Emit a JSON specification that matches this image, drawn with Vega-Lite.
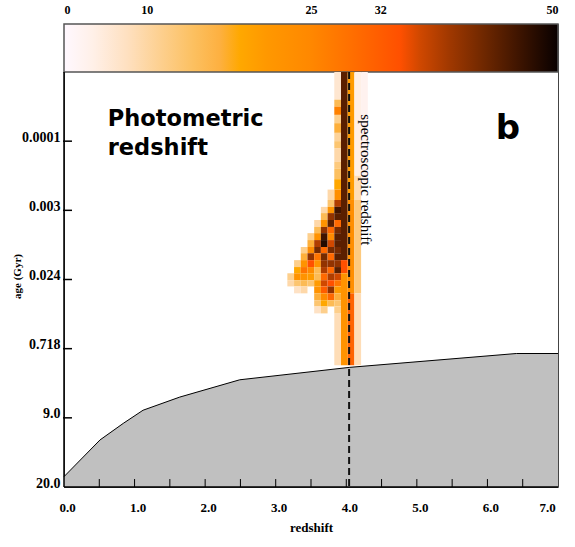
{
  "$schema": "https://vega.github.io/schema/vega-lite/v6.json",
  "width": 494,
  "height": 463,
  "autosize": {"type": "none"},
  "padding": {"left": 64, "top": 24, "right": 17, "bottom": 60},
  "background": "white",
  "config": {
    "view": {"stroke": "#444", "strokeWidth": 1},
    "axis": {
      "grid": false,
      "zindex": 1,
      "labelFont": "Liberation Serif",
      "labelFontWeight": "bold",
      "labelColor": "black",
      "titleFont": "Liberation Serif",
      "titleFontWeight": "bold",
      "titleColor": "black",
      "domainColor": "black",
      "tickColor": "black"
    }
  },
  "datasets": {
    "scale_bar": [{"lo": 0, "hi": 50}],
    "boundary": [
      {"z": 0.0, "a": 5.85},
      {"z": 0.51, "a": 5.32},
      {"z": 0.84, "a": 5.08},
      {"z": 1.12, "a": 4.89},
      {"z": 1.64, "a": 4.70},
      {"z": 2.49, "a": 4.45},
      {"z": 4.05, "a": 4.27},
      {"z": 6.41, "a": 4.07},
      {"z": 7.0, "a": 4.07}
    ],
    "spec_z": [{"z": 4.04}],
    "x_ticks": [
      {"z": 0.5}, {"z": 1}, {"z": 1.5}, {"z": 2}, {"z": 2.5}, {"z": 3}, {"z": 3.5},
      {"z": 4}, {"z": 4.5}, {"z": 5}, {"z": 5.5}, {"z": 6}, {"z": 6.5}
    ],
    "y_ticks": [{"a": 1}, {"a": 2}, {"a": 3}, {"a": 4}, {"a": 5}],
    "heat": [
      {"z0": 3.925, "z1": 4.02, "a0": 0, "a1": 2.72, "v": 44},
      {"z0": 3.925, "z1": 4.02, "a0": 2.72, "a1": 2.91, "v": 34},
      {"z0": 3.925, "z1": 4.02, "a0": 2.91, "a1": 4.24, "v": 22},
      {"z0": 4.02, "z1": 4.115, "a0": 0, "a1": 1.85, "v": 20},
      {"z0": 4.02, "z1": 4.115, "a0": 1.85, "a1": 3.2, "v": 23},
      {"z0": 4.02, "z1": 4.115, "a0": 3.2, "a1": 4.24, "v": 31},
      {"z0": 4.115, "z1": 4.21, "a0": 0, "a1": 1.5, "v": 3},
      {"z0": 4.115, "z1": 4.21, "a0": 1.5, "a1": 1.85, "v": 7},
      {"z0": 4.115, "z1": 4.21, "a0": 1.85, "a1": 3.2, "v": 11},
      {"z0": 4.115, "z1": 4.21, "a0": 3.2, "a1": 4.24, "v": 7},
      {"z0": 4.21, "z1": 4.305, "a0": 0, "a1": 1.6, "v": 2},
      {"z0": 3.83, "z1": 3.925, "a0": 0, "a1": 0.4, "v": 5},
      {"z0": 3.83, "z1": 3.925, "a0": 0.4, "a1": 0.5, "v": 14},
      {"z0": 3.83, "z1": 3.925, "a0": 0.5, "a1": 0.62, "v": 26},
      {"z0": 3.83, "z1": 3.925, "a0": 0.62, "a1": 0.74, "v": 10},
      {"z0": 3.83, "z1": 3.925, "a0": 0.74, "a1": 0.88, "v": 16},
      {"z0": 3.83, "z1": 3.925, "a0": 0.88, "a1": 1.0, "v": 9},
      {"z0": 3.83, "z1": 3.925, "a0": 1.0, "a1": 1.1, "v": 12},
      {"z0": 3.83, "z1": 3.925, "a0": 1.1, "a1": 1.3, "v": 8},
      {"z0": 3.83, "z1": 3.925, "a0": 1.3, "a1": 1.4, "v": 11},
      {"z0": 3.83, "z1": 3.925, "a0": 1.4, "a1": 1.55, "v": 13},
      {"z0": 3.83, "z1": 3.925, "a0": 1.55, "a1": 1.7, "v": 18},
      {"z0": 3.83, "z1": 3.925, "a0": 1.7, "a1": 1.85, "v": 23},
      {"z0": 3.83, "z1": 3.925, "a0": 3.49, "a1": 4.24, "v": 7},
      {"z0": 3.735, "z1": 3.83, "a0": 1.7, "a1": 1.85, "v": 8},

      {"z0": 3.735, "z1": 3.83, "a0": 1.85, "a1": 1.95, "v": 12},
      {"z0": 3.83, "z1": 3.925, "a0": 1.85, "a1": 1.95, "v": 38},

      {"z0": 3.64, "z1": 3.735, "a0": 1.95, "a1": 2.04, "v": 8},
      {"z0": 3.735, "z1": 3.83, "a0": 1.95, "a1": 2.04, "v": 22},
      {"z0": 3.83, "z1": 3.925, "a0": 1.95, "a1": 2.04, "v": 46},

      {"z0": 3.64, "z1": 3.735, "a0": 2.04, "a1": 2.14, "v": 14},
      {"z0": 3.735, "z1": 3.83, "a0": 2.04, "a1": 2.14, "v": 40},
      {"z0": 3.83, "z1": 3.925, "a0": 2.04, "a1": 2.14, "v": 44},

      {"z0": 3.545, "z1": 3.64, "a0": 2.14, "a1": 2.24, "v": 8},
      {"z0": 3.64, "z1": 3.735, "a0": 2.14, "a1": 2.24, "v": 22},
      {"z0": 3.735, "z1": 3.83, "a0": 2.14, "a1": 2.24, "v": 44},
      {"z0": 3.83, "z1": 3.925, "a0": 2.14, "a1": 2.24, "v": 30},

      {"z0": 3.545, "z1": 3.64, "a0": 2.24, "a1": 2.33, "v": 14},
      {"z0": 3.64, "z1": 3.735, "a0": 2.24, "a1": 2.33, "v": 40},
      {"z0": 3.735, "z1": 3.83, "a0": 2.24, "a1": 2.33, "v": 30},
      {"z0": 3.83, "z1": 3.925, "a0": 2.24, "a1": 2.33, "v": 42},

      {"z0": 3.45, "z1": 3.545, "a0": 2.33, "a1": 2.43, "v": 10},
      {"z0": 3.545, "z1": 3.64, "a0": 2.33, "a1": 2.43, "v": 22},
      {"z0": 3.64, "z1": 3.735, "a0": 2.33, "a1": 2.43, "v": 46},
      {"z0": 3.735, "z1": 3.83, "a0": 2.33, "a1": 2.43, "v": 24},
      {"z0": 3.83, "z1": 3.925, "a0": 2.33, "a1": 2.43, "v": 44},

      {"z0": 3.45, "z1": 3.545, "a0": 2.43, "a1": 2.53, "v": 16},
      {"z0": 3.545, "z1": 3.64, "a0": 2.43, "a1": 2.53, "v": 38},
      {"z0": 3.64, "z1": 3.735, "a0": 2.43, "a1": 2.53, "v": 48},
      {"z0": 3.735, "z1": 3.83, "a0": 2.43, "a1": 2.53, "v": 36},
      {"z0": 3.83, "z1": 3.925, "a0": 2.43, "a1": 2.53, "v": 44},

      {"z0": 3.355, "z1": 3.45, "a0": 2.53, "a1": 2.62, "v": 10},
      {"z0": 3.45, "z1": 3.545, "a0": 2.53, "a1": 2.62, "v": 24},
      {"z0": 3.545, "z1": 3.64, "a0": 2.53, "a1": 2.62, "v": 42},
      {"z0": 3.64, "z1": 3.735, "a0": 2.53, "a1": 2.62, "v": 30},
      {"z0": 3.735, "z1": 3.83, "a0": 2.53, "a1": 2.62, "v": 42},
      {"z0": 3.83, "z1": 3.925, "a0": 2.53, "a1": 2.62, "v": 42},

      {"z0": 3.355, "z1": 3.45, "a0": 2.62, "a1": 2.72, "v": 16},
      {"z0": 3.45, "z1": 3.545, "a0": 2.62, "a1": 2.72, "v": 40},
      {"z0": 3.545, "z1": 3.64, "a0": 2.62, "a1": 2.72, "v": 28},
      {"z0": 3.64, "z1": 3.735, "a0": 2.62, "a1": 2.72, "v": 42},
      {"z0": 3.735, "z1": 3.83, "a0": 2.62, "a1": 2.72, "v": 30},
      {"z0": 3.83, "z1": 3.925, "a0": 2.62, "a1": 2.72, "v": 44},

      {"z0": 3.26, "z1": 3.355, "a0": 2.72, "a1": 2.82, "v": 10},
      {"z0": 3.355, "z1": 3.45, "a0": 2.72, "a1": 2.82, "v": 22},
      {"z0": 3.45, "z1": 3.545, "a0": 2.72, "a1": 2.82, "v": 34},
      {"z0": 3.545, "z1": 3.64, "a0": 2.72, "a1": 2.82, "v": 22},
      {"z0": 3.64, "z1": 3.735, "a0": 2.72, "a1": 2.82, "v": 40},
      {"z0": 3.735, "z1": 3.83, "a0": 2.72, "a1": 2.82, "v": 40},
      {"z0": 3.83, "z1": 3.925, "a0": 2.72, "a1": 2.82, "v": 40},

      {"z0": 3.26, "z1": 3.355, "a0": 2.82, "a1": 2.91, "v": 18},
      {"z0": 3.355, "z1": 3.45, "a0": 2.82, "a1": 2.91, "v": 28},
      {"z0": 3.45, "z1": 3.545, "a0": 2.82, "a1": 2.91, "v": 24},
      {"z0": 3.545, "z1": 3.64, "a0": 2.82, "a1": 2.91, "v": 14},
      {"z0": 3.64, "z1": 3.735, "a0": 2.82, "a1": 2.91, "v": 38},
      {"z0": 3.735, "z1": 3.83, "a0": 2.82, "a1": 2.91, "v": 30},
      {"z0": 3.83, "z1": 3.925, "a0": 2.82, "a1": 2.91, "v": 44},

      {"z0": 3.165, "z1": 3.26, "a0": 2.91, "a1": 3.01, "v": 10},
      {"z0": 3.26, "z1": 3.355, "a0": 2.91, "a1": 3.01, "v": 22},
      {"z0": 3.355, "z1": 3.45, "a0": 2.91, "a1": 3.01, "v": 22},
      {"z0": 3.45, "z1": 3.545, "a0": 2.91, "a1": 3.01, "v": 20},
      {"z0": 3.545, "z1": 3.64, "a0": 2.91, "a1": 3.01, "v": 14},
      {"z0": 3.64, "z1": 3.735, "a0": 2.91, "a1": 3.01, "v": 30},
      {"z0": 3.735, "z1": 3.83, "a0": 2.91, "a1": 3.01, "v": 38},
      {"z0": 3.83, "z1": 3.925, "a0": 2.91, "a1": 3.01, "v": 36},

      {"z0": 3.165, "z1": 3.26, "a0": 3.01, "a1": 3.1, "v": 8},
      {"z0": 3.26, "z1": 3.355, "a0": 3.01, "a1": 3.1, "v": 12},
      {"z0": 3.355, "z1": 3.45, "a0": 3.01, "a1": 3.1, "v": 14},
      {"z0": 3.45, "z1": 3.545, "a0": 3.01, "a1": 3.1, "v": 12},
      {"z0": 3.545, "z1": 3.64, "a0": 3.01, "a1": 3.1, "v": 20},
      {"z0": 3.64, "z1": 3.735, "a0": 3.01, "a1": 3.1, "v": 36},
      {"z0": 3.735, "z1": 3.83, "a0": 3.01, "a1": 3.1, "v": 34},
      {"z0": 3.83, "z1": 3.925, "a0": 3.01, "a1": 3.1, "v": 28},

      {"z0": 3.26, "z1": 3.355, "a0": 3.1, "a1": 3.2, "v": 6},
      {"z0": 3.355, "z1": 3.45, "a0": 3.1, "a1": 3.2, "v": 8},
      {"z0": 3.545, "z1": 3.64, "a0": 3.1, "a1": 3.2, "v": 22},
      {"z0": 3.64, "z1": 3.735, "a0": 3.1, "a1": 3.2, "v": 32},
      {"z0": 3.735, "z1": 3.83, "a0": 3.1, "a1": 3.2, "v": 40},
      {"z0": 3.83, "z1": 3.925, "a0": 3.1, "a1": 3.2, "v": 20},

      {"z0": 3.545, "z1": 3.64, "a0": 3.2, "a1": 3.3, "v": 16},
      {"z0": 3.64, "z1": 3.735, "a0": 3.2, "a1": 3.3, "v": 24},
      {"z0": 3.735, "z1": 3.83, "a0": 3.2, "a1": 3.3, "v": 30},
      {"z0": 3.83, "z1": 3.925, "a0": 3.2, "a1": 3.3, "v": 16},

      {"z0": 3.545, "z1": 3.64, "a0": 3.3, "a1": 3.39, "v": 12},
      {"z0": 3.64, "z1": 3.735, "a0": 3.3, "a1": 3.39, "v": 18},
      {"z0": 3.735, "z1": 3.83, "a0": 3.3, "a1": 3.39, "v": 14},
      {"z0": 3.83, "z1": 3.925, "a0": 3.3, "a1": 3.39, "v": 12},

      {"z0": 3.545, "z1": 3.64, "a0": 3.39, "a1": 3.49, "v": 6},
      {"z0": 3.64, "z1": 3.735, "a0": 3.39, "a1": 3.49, "v": 10},
      {"z0": 3.83, "z1": 3.925, "a0": 3.39, "a1": 3.49, "v": 10}
    ]
  },
  "layer": [
    {
      "data": {"name": "boundary"},
      "mark": {"type": "area", "color": "#c0c0c0", "opacity": 1, "line": {"color": "black", "strokeWidth": 1}},
      "encoding": {
        "x": {
          "field": "z",
          "type": "quantitative",
          "scale": {"domain": [0, 7], "nice": false, "zero": false},
          "axis": {
            "orient": "bottom",
            "values": [0, 1, 2, 3, 4, 5, 6, 7],
            "format": ".1f",
            "domain": false,
            "ticks": false,
            "labelFlush": false,
            "labelPadding": 14,
            "labelOffset": {"condition": {"test": "datum.value == 7", "value": -11}, "value": 3},
            "labelFontSize": 13,
            "title": "redshift",
            "titleFontSize": 13,
            "titlePadding": 7
          }
        },
        "y": {
          "field": "a",
          "type": "quantitative",
          "scale": {"domain": [-0.694, 6], "reverse": true, "nice": false, "zero": false},
          "axis": {
            "orient": "left",
            "values": [1, 2, 3, 4, 5, 6],
            "labelExpr": "['', '0.0001', '0.003', '0.024', '0.718', '9.0', '20.0'][datum.value]",
            "domain": false,
            "ticks": false,
            "labelPadding": 4,
            "labelFontSize": 14,
            "labelBaseline": "alphabetic",
            "title": "age (Gyr)",
            "titleFontSize": 11,
            "titleAngle": -90,
            "titleAlign": "center",
            "titleBaseline": "middle",
            "titleX": -47,
            "titleY": 252
          }
        },
        "y2": {"datum": 6}
      }
    },
    {
      "data": {"name": "scale_bar"},
      "mark": {
        "type": "rect",
        "stroke": "#555",
        "strokeWidth": 1.5,
        "fill": {
          "gradient": "linear",
          "x1": 0, "y1": 0, "x2": 1, "y2": 0,
          "stops": [
            {"offset": 0, "color": "#fff8ff"},
            {"offset": 0.058, "color": "#fff0e8"},
            {"offset": 0.128, "color": "#fee0c0"},
            {"offset": 0.194, "color": "#fdd090"},
            {"offset": 0.262, "color": "#fcc060"},
            {"offset": 0.316, "color": "#fdb040"},
            {"offset": 0.356, "color": "#ffa800"},
            {"offset": 0.41, "color": "#ff9800"},
            {"offset": 0.498, "color": "#ff8800"},
            {"offset": 0.578, "color": "#ff7000"},
            {"offset": 0.68, "color": "#ff5000"},
            {"offset": 0.72, "color": "#d04800"},
            {"offset": 0.78, "color": "#a03800"},
            {"offset": 0.848, "color": "#702800"},
            {"offset": 0.918, "color": "#401500"},
            {"offset": 1, "color": "#080000"}
          ]
        }
      },
      "encoding": {
        "x": {
          "field": "lo",
          "type": "quantitative",
          "scale": {"domain": [0, 50], "nice": false, "zero": false},
          "axis": {
            "orient": "top",
            "values": [0, 10, 25, 32, 50],
            "format": "d",
            "ticks": false,
            "domain": false,
            "labelFontSize": 12,
            "labelPadding": 8,
            "labelOffset": {"condition": {"test": "datum.value == 10", "value": -16}, "value": 0},
            "title": null
          }
        },
        "x2": {"field": "hi"},
        "y": {
          "datum": -0.694,
          "type": "quantitative",
          "scale": {"domain": [-0.694, 6], "reverse": true, "nice": false, "zero": false},
          "axis": null
        },
        "y2": {"datum": 0}
      }
    },
    {
      "data": {"name": "heat"},
      "mark": {"type": "rect"},
      "encoding": {
        "x": {"field": "z0", "type": "quantitative", "scale": {"domain": [0, 7], "nice": false, "zero": false}, "axis": null},
        "x2": {"field": "z1"},
        "y": {"field": "a0", "type": "quantitative", "scale": {"domain": [-0.694, 6], "reverse": true, "nice": false, "zero": false}, "axis": null},
        "y2": {"field": "a1"},
        "color": {
          "field": "v",
          "type": "quantitative",
          "scale": {
            "domain": [0, 2.9, 6.4, 9.7, 13.1, 15.8, 17.8, 20.5, 24.9, 28.9, 34, 36, 39, 42.4, 45.9, 50],
            "range": ["#fff8ff", "#fff0e8", "#fee0c0", "#fdd090", "#fcc060", "#fdb040", "#ffa800", "#ff9800", "#ff8800", "#ff7000", "#ff5000", "#d04800", "#a03800", "#702800", "#401500", "#080000"],
            "interpolate": "rgb"
          },
          "legend": null
        }
      }
    },
    {
      "data": {"name": "spec_z"},
      "mark": {"type": "rule", "color": "#111", "strokeWidth": 2, "strokeDash": [7, 4]},
      "encoding": {
        "x": {"field": "z", "type": "quantitative", "scale": {"domain": [0, 7], "nice": false, "zero": false}, "axis": null},
        "y": {"datum": 0, "type": "quantitative", "scale": {"domain": [-0.694, 6], "reverse": true, "nice": false, "zero": false}, "axis": null},
        "y2": {"datum": 6}
      }
    },
    {
      "data": {"values": [{}]},
      "mark": {"type": "rule", "color": "black", "strokeWidth": 1.5},
      "encoding": {
        "x": {"datum": 0, "type": "quantitative", "scale": {"domain": [0, 7], "nice": false, "zero": false}, "axis": null},
        "y": {"datum": 0, "type": "quantitative", "scale": {"domain": [-0.694, 6], "reverse": true, "nice": false, "zero": false}, "axis": null},
        "y2": {"datum": 6}
      }
    },
    {
      "data": {"values": [{}]},
      "mark": {"type": "rule", "color": "black", "strokeWidth": 1.5},
      "encoding": {
        "x": {"datum": 0, "type": "quantitative", "scale": {"domain": [0, 7], "nice": false, "zero": false}, "axis": null},
        "x2": {"datum": 7},
        "y": {"datum": 6, "type": "quantitative", "scale": {"domain": [-0.694, 6], "reverse": true, "nice": false, "zero": false}, "axis": null}
      }
    },
    {
      "data": {"name": "x_ticks"},
      "mark": {"type": "rule", "color": "black", "strokeWidth": 1},
      "encoding": {
        "x": {"field": "z", "type": "quantitative", "scale": {"domain": [0, 7], "nice": false, "zero": false}, "axis": null},
        "y": {"datum": 6, "type": "quantitative", "scale": {"domain": [-0.694, 6], "reverse": true, "nice": false, "zero": false}, "axis": null},
        "y2": {"datum": 5.885}
      }
    },
    {
      "data": {"name": "y_ticks"},
      "mark": {"type": "rule", "color": "black", "strokeWidth": 1.5},
      "encoding": {
        "x": {"datum": -0.014, "type": "quantitative", "scale": {"domain": [0, 7], "nice": false, "zero": false}, "axis": null},
        "x2": {"datum": 0.113},
        "y": {"field": "a", "type": "quantitative", "scale": {"domain": [-0.694, 6], "reverse": true, "nice": false, "zero": false}, "axis": null}
      }
    },
    {
      "data": {"values": [{"z": 4.28, "a": 1.56, "label": "spectroscopic redshift"}]},
      "mark": {"type": "text", "font": "Liberation Serif", "fontSize": 15, "angle": 90, "align": "center", "baseline": "middle", "color": "black"},
      "encoding": {
        "x": {"field": "z", "type": "quantitative", "scale": {"domain": [0, 7], "nice": false, "zero": false}, "axis": null},
        "y": {"field": "a", "type": "quantitative", "scale": {"domain": [-0.694, 6], "reverse": true, "nice": false, "zero": false}, "axis": null},
        "text": {"field": "label"}
      }
    },
    {
      "data": {"values": [
        {"z": 0.62, "a": 0.78, "label": "Photometric"},
        {"z": 0.62, "a": 1.2, "label": "redshift"}
      ]},
      "mark": {"type": "text", "font": "DejaVu Sans", "fontWeight": "bold", "fontSize": 22.5, "align": "left", "baseline": "alphabetic", "color": "black"},
      "encoding": {
        "x": {"field": "z", "type": "quantitative", "scale": {"domain": [0, 7], "nice": false, "zero": false}, "axis": null},
        "y": {"field": "a", "type": "quantitative", "scale": {"domain": [-0.694, 6], "reverse": true, "nice": false, "zero": false}, "axis": null},
        "text": {"field": "label"}
      }
    },
    {
      "data": {"values": [{"z": 6.29, "a": 0.97, "label": "b"}]},
      "mark": {"type": "text", "font": "DejaVu Sans", "fontWeight": "bold", "fontSize": 34, "align": "center", "baseline": "alphabetic", "color": "black"},
      "encoding": {
        "x": {"field": "z", "type": "quantitative", "scale": {"domain": [0, 7], "nice": false, "zero": false}, "axis": null},
        "y": {"field": "a", "type": "quantitative", "scale": {"domain": [-0.694, 6], "reverse": true, "nice": false, "zero": false}, "axis": null},
        "text": {"field": "label"}
      }
    }
  ],
  "resolve": {
    "scale": {"x": "independent", "y": "independent"},
    "axis": {"x": "independent", "y": "independent"}
  }
}
